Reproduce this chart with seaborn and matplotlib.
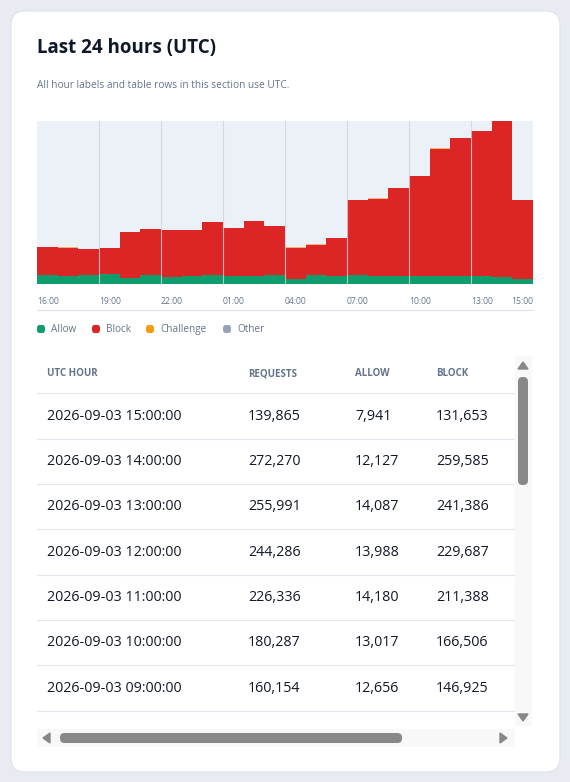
import matplotlib
matplotlib.use("Agg")
import matplotlib.pyplot as plt
from matplotlib.patches import FancyBboxPatch, Rectangle, Polygon
import seaborn as sns
import pandas as pd
import numpy as np

hours = ["16:00","17:00","18:00","19:00","20:00","21:00","22:00","23:00","00:00","01:00","02:00","03:00",
         "04:00","05:00","06:00","07:00","08:00","09:00","10:00","11:00","12:00","13:00","14:00","15:00"]
requests = [61400, 61000, 59000, 60000, 87000, 91500, 90000, 91000, 104000, 94000, 105000, 97000,
            61000, 66000, 77500, 140000, 143000, 160154, 180287, 226336, 244286, 255991, 272270, 139865]
allow = [14500, 13000, 14500, 16000, 10000, 14500, 11000, 14000, 14500, 14000, 14000, 14500,
         8000, 14500, 13000, 14500, 13000, 12656, 13017, 14180, 13988, 14087, 12127, 7941]
challenge = [300]*23 + [271]
block = [r - a - c for r, a, c in zip(requests, allow, challenge)]
tick_labels = ["16:00","19:00","22:00","01:00","04:00","07:00","10:00","13:00"]

table_cols = ["UTC HOUR", "REQUESTS", "ALLOW", "BLOCK"]
row_hours = ["2026-09-03 15:00:00","2026-09-03 14:00:00","2026-09-03 13:00:00","2026-09-03 12:00:00",
             "2026-09-03 11:00:00","2026-09-03 10:00:00","2026-09-03 09:00:00"]
row_requests = ["139,865","272,270","255,991","244,286","226,336","180,287","160,154"]
row_allow = ["7,941","12,127","14,087","13,988","14,180","13,017","12,656"]
row_block = ["131,653","259,585","241,386","229,687","211,388","166,506","146,925"]

plt.rcParams['font.family'] = ['Open Sans', 'DejaVu Sans']
W, H = 570, 782
fig = plt.figure(figsize=(W/100, H/100), dpi=100)
fig.patch.set_facecolor("#e8ebf2")

def fx(x): return x / W
def fy(y): return 1 - y / H

def add(p, z=2):
    p.set_zorder(z)
    fig.add_artist(p)

card = FancyBboxPatch((fx(11), fy(772)), fx(549), (761)/H, boxstyle="round,pad=0,rounding_size=0.025",
                      transform=fig.transFigure, facecolor="white", edgecolor="#dde2ea", lw=0.8,
                      mutation_aspect=W/H)
add(card, -10)

fig.text(fx(37), fy(48), "Last 24 hours (UTC)", fontsize=13.5, fontweight="bold", color="#0f172a", va="center")
fig.text(fx(37), fy(85), "All hour labels and table rows in this section use UTC.", fontsize=7.3, color="#64748b", va="center")

ax = fig.add_axes([fx(37), fy(284), fx(533-37), (284-121)/H])
ax.set_zorder(1)
ax.set_facecolor("#ecf1f8")
df = pd.DataFrame({"hour": hours, "total": requests,
                   "ab": [a + b for a, b in zip(allow, block)], "allow": allow})
kw = dict(x="hour", ax=ax, width=1.0, saturation=1, edgecolor="none", linewidth=0, order=hours)
sns.barplot(data=df, y="total", color="#f5b27a", **kw)
sns.barplot(data=df, y="ab", color="#dc2626", **kw)
sns.barplot(data=df, y="allow", color="#0f9d6b", **kw)
ax.set_xlim(-0.5, 23.5)
ax.set_ylim(0, max(requests))
for i in range(3, 24, 3):
    ax.axvline(i - 0.5, color="#d1d5db", lw=0.8, alpha=0.8)
ax.set_xticks([]); ax.set_yticks([])
ax.set_xlabel(""); ax.set_ylabel("")
for s in ax.spines.values():
    s.set_visible(False)
for k, lab in enumerate(tick_labels):
    i = k * 3
    ax.text(i - 0.5, -0.11, lab, transform=ax.get_xaxis_transform(), ha="left", va="center",
            fontsize=6.2, color="#64748b")
ax.text(23.5, -0.11, "15:00", transform=ax.get_xaxis_transform(), ha="right", va="center",
        fontsize=6.2, color="#64748b")
add(plt.Line2D([fx(37), fx(533)], [fy(310), fy(310)], color="#dbe3ee", lw=0.8))

# legend
leg = [("Allow", "#0f9d6b", 37), ("Block", "#dc2626", 92), ("Challenge", "#f59e0b", 146), ("Other", "#94a3b8", 223)]
for name, col, x in leg:
    add(FancyBboxPatch((fx(x), fy(333)), fx(8), 8/H, boxstyle="round,pad=0,rounding_size=0.004",
                       transform=fig.transFigure, facecolor=col, edgecolor="none"))
    fig.text(fx(x + 14), fy(329), name, fontsize=7.2, color="#64748b", va="center")

# table
col_x = [47, 248, 355, 436]
for c, x in zip(table_cols, col_x):
    fig.text(fx(x), fy(374), c, fontsize=7, fontweight="bold", color="#64748b", va="center")
lines_y = [393, 439, 484, 529, 575, 620, 665, 711]
for y in lines_y:
    add(plt.Line2D([fx(37), fx(515)], [fy(y), fy(y)], color="#e2e8f0", lw=0.8))
rows = list(zip(row_hours, row_requests, row_allow, row_block))
for r, vals in enumerate(rows):
    y = (lines_y[r] + lines_y[r + 1]) / 2
    for v, x in zip(vals, col_x):
        fig.text(fx(x), fy(y), v, fontsize=10.3, color="#111827", va="center")

# scrollbars
add(Rectangle((fx(515), fy(726)), fx(17), 370/H, transform=fig.transFigure, facecolor="#f8f8f8", edgecolor="none"))
add(FancyBboxPatch((fx(518), fy(485)), fx(10), 108/H, boxstyle="round,pad=0,rounding_size=0.008",
                   transform=fig.transFigure, facecolor="#888888", edgecolor="none", mutation_aspect=W/H), 3)
add(Polygon([[fx(518), fy(369)], [fx(528), fy(369)], [fx(523), fy(362)]], transform=fig.transFigure, color="#888888"), 3)
add(Polygon([[fx(518), fy(714)], [fx(528), fy(714)], [fx(523), fy(721)]], transform=fig.transFigure, color="#888888"), 3)
add(Rectangle((fx(37), fy(747)), fx(478), 18/H, transform=fig.transFigure, facecolor="#f8f8f8", edgecolor="none"))
add(FancyBboxPatch((fx(60), fy(743)), fx(342), 10/H, boxstyle="round,pad=0,rounding_size=0.008",
                   transform=fig.transFigure, facecolor="#888888", edgecolor="none", mutation_aspect=W/H), 3)
add(Polygon([[fx(50), fy(733)], [fx(50), fy(743)], [fx(43), fy(738)]], transform=fig.transFigure, color="#888888"), 3)
add(Polygon([[fx(500), fy(733)], [fx(500), fy(743)], [fx(507), fy(738)]], transform=fig.transFigure, color="#888888"), 3)

fig.savefig("out.png", dpi=100, facecolor=fig.get_facecolor())
